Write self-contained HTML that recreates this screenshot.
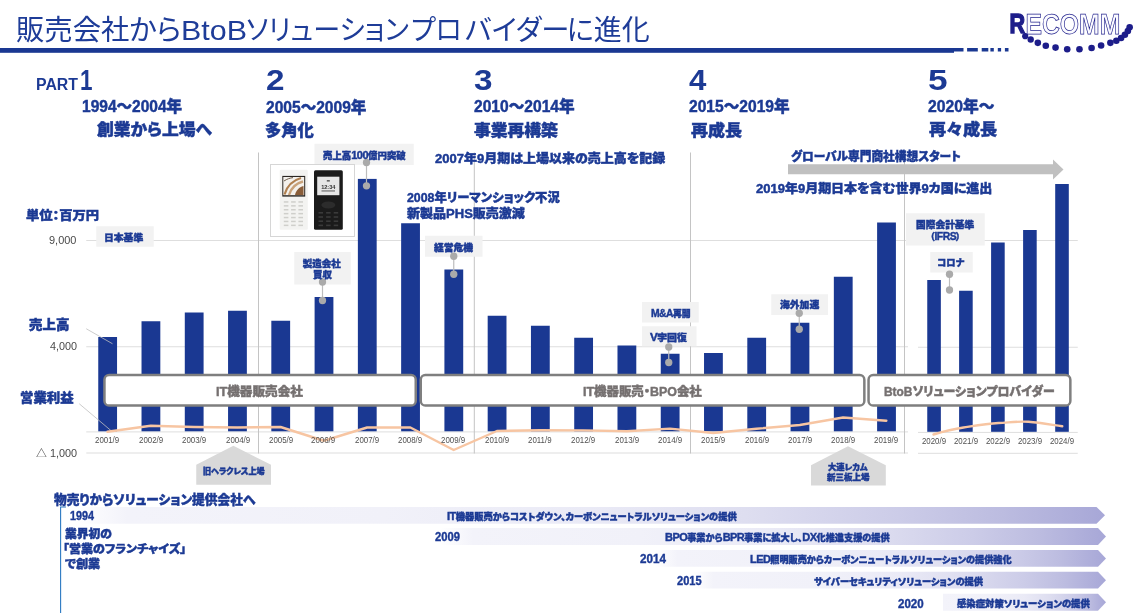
<!DOCTYPE html>
<html lang="ja"><head><meta charset="utf-8"><title>販売会社からBtoBソリューションプロバイダーに進化</title>
<style>
html,body{margin:0;padding:0;background:#fff;}
#s{position:relative;width:1135px;height:613px;overflow:hidden;background:#fff;}
#s svg{position:absolute;left:0;top:0;}
.t{position:absolute;white-space:nowrap;line-height:1;transform-origin:0 0;}
</style></head><body><div id="s">
<svg width="1135" height="613" viewBox="0 0 1135 613">
<defs><linearGradient id="bg" x1="0" x2="1" y1="0" y2="0"><stop offset="0" stop-color="#f3f3fa"/><stop offset="0.3" stop-color="#f1f1f9"/><stop offset="0.5" stop-color="#eaeaf6"/><stop offset="0.65" stop-color="#dedef0"/><stop offset="0.8" stop-color="#cccce8"/><stop offset="0.9" stop-color="#bcbce0"/><stop offset="1.0" stop-color="#a7a7d7"/></linearGradient><linearGradient id="bg2" x1="0" x2="1" y1="0" y2="0"><stop offset="0" stop-color="#ffffff"/><stop offset="0.05" stop-color="#f3f3fa"/><stop offset="0.3" stop-color="#f1f1f9"/><stop offset="0.5" stop-color="#eaeaf6"/><stop offset="0.65" stop-color="#dedef0"/><stop offset="0.8" stop-color="#cccce8"/><stop offset="0.9" stop-color="#bcbce0"/><stop offset="1.0" stop-color="#a7a7d7"/></linearGradient></defs>
<rect x="0" y="48" width="954" height="4.8" fill="#1a3892"/>
<rect x="953.8" y="48" width="9.7" height="3.5" fill="#1a3892"/>
<rect x="967.1" y="48" width="10.7" height="3.5" fill="#1a3892"/>
<rect x="981.7" y="48" width="6.6" height="3.5" fill="#1a3892"/>
<rect x="990.4" y="48" width="3.4" height="3.5" fill="#1a3892"/>
<rect x="997.8" y="48" width="3.3" height="3.5" fill="#1a3892"/>
<rect x="1004.9" y="48" width="3.6" height="3.5" fill="#1a3892"/>
<rect x="86.25" y="240.0" width="821.75" height="1" fill="#dedede"/>
<rect x="86.25" y="346.25" width="821.75" height="1" fill="#dedede"/>
<rect x="86.25" y="431.4" width="821.75" height="1" fill="#dedede"/>
<rect x="86.25" y="452.5" width="821.75" height="1" fill="#dedede"/>
<rect x="918" y="240.0" width="159.75" height="1" fill="#dedede"/>
<rect x="918" y="346.75" width="159.75" height="1" fill="#dedede"/>
<rect x="918" y="431.9" width="159.75" height="1" fill="#dedede"/>
<rect x="918" y="452.8" width="159.75" height="1" fill="#dedede"/>
<rect x="258.0" y="152.5" width="1" height="301.0" fill="#c4c4c4"/>
<rect x="473.8" y="152.5" width="1" height="301.0" fill="#c4c4c4"/>
<rect x="690.0" y="152.5" width="1" height="301.0" fill="#c4c4c4"/>
<rect x="904.0" y="152.5" width="1" height="301.0" fill="#c4c4c4"/>
<rect x="98.25" y="337" width="18.8" height="94.30" fill="#1a3892"/>
<rect x="141.52" y="321.25" width="18.8" height="110.05" fill="#1a3892"/>
<rect x="184.79" y="312.5" width="18.8" height="118.80" fill="#1a3892"/>
<rect x="228.06" y="310.75" width="18.8" height="120.55" fill="#1a3892"/>
<rect x="271.33" y="320.75" width="18.8" height="110.55" fill="#1a3892"/>
<rect x="314.60" y="297" width="18.8" height="134.30" fill="#1a3892"/>
<rect x="357.87" y="178.9" width="18.8" height="252.40" fill="#1a3892"/>
<rect x="401.14" y="223.25" width="18.8" height="208.05" fill="#1a3892"/>
<rect x="444.41" y="269.5" width="18.8" height="161.80" fill="#1a3892"/>
<rect x="487.68" y="315.75" width="18.8" height="115.55" fill="#1a3892"/>
<rect x="530.95" y="325.75" width="18.8" height="105.55" fill="#1a3892"/>
<rect x="574.22" y="337.75" width="18.8" height="93.55" fill="#1a3892"/>
<rect x="617.49" y="345.5" width="18.8" height="85.80" fill="#1a3892"/>
<rect x="660.76" y="353.75" width="18.8" height="77.55" fill="#1a3892"/>
<rect x="704.03" y="353" width="18.8" height="78.30" fill="#1a3892"/>
<rect x="747.30" y="337.75" width="18.8" height="93.55" fill="#1a3892"/>
<rect x="790.57" y="322.75" width="18.8" height="108.55" fill="#1a3892"/>
<rect x="833.84" y="276.75" width="18.8" height="154.55" fill="#1a3892"/>
<rect x="877.11" y="222.5" width="18.8" height="208.80" fill="#1a3892"/>
<rect x="927.25" y="280" width="13.6" height="151.80" fill="#1a3892"/>
<rect x="959.1" y="290.75" width="13.6" height="141.05" fill="#1a3892"/>
<rect x="991.1" y="242.5" width="13.6" height="189.30" fill="#1a3892"/>
<rect x="1023.1" y="230" width="13.6" height="201.80" fill="#1a3892"/>
<rect x="1055.2" y="184" width="13.6" height="247.80" fill="#1a3892"/>
<rect x="96.25" y="226.25" width="57.5" height="20.5" fill="#f2f2f2"/>
<rect x="314.5" y="143.75" width="99.25" height="21.25" fill="#f2f2f2"/>
<rect x="294.25" y="252" width="56.5" height="32.5" fill="#f2f2f2"/>
<rect x="425" y="235.75" width="57.5" height="21.0" fill="#f2f2f2"/>
<rect x="642" y="302" width="56.75" height="20.5" fill="#f2f2f2"/>
<rect x="642" y="326.25" width="54.5" height="20.0" fill="#f2f2f2"/>
<rect x="771.25" y="294.25" width="56.75" height="20.75" fill="#f2f2f2"/>
<rect x="906" y="213.25" width="78.75" height="32.25" fill="#f2f2f2"/>
<rect x="930.25" y="252" width="42.5" height="20.5" fill="#f2f2f2"/>
<line x1="366.5" y1="162.5" x2="366.5" y2="185.8" stroke="#bdbdbd" stroke-width="1.2"/>
<circle cx="366.5" cy="162.5" r="3.65" fill="#aaaaaa"/><circle cx="366.5" cy="185.8" r="3.65" fill="#aaaaaa"/>
<line x1="453.75" y1="256.25" x2="453.75" y2="274.25" stroke="#bdbdbd" stroke-width="1.2"/>
<circle cx="453.75" cy="256.25" r="3.65" fill="#aaaaaa"/><circle cx="453.75" cy="274.25" r="3.65" fill="#aaaaaa"/>
<line x1="322.5" y1="282" x2="322.5" y2="300.5" stroke="#bdbdbd" stroke-width="1.2"/>
<circle cx="322.5" cy="282" r="3.65" fill="#aaaaaa"/><circle cx="322.5" cy="300.5" r="3.65" fill="#aaaaaa"/>
<line x1="668.75" y1="347" x2="668.75" y2="362.5" stroke="#bdbdbd" stroke-width="1.2"/>
<circle cx="668.75" cy="347" r="3.65" fill="#aaaaaa"/><circle cx="668.75" cy="362.5" r="3.65" fill="#aaaaaa"/>
<line x1="799.25" y1="313.25" x2="799.25" y2="329.25" stroke="#bdbdbd" stroke-width="1.2"/>
<circle cx="799.25" cy="313.25" r="3.65" fill="#aaaaaa"/><circle cx="799.25" cy="329.25" r="3.65" fill="#aaaaaa"/>
<line x1="949.5" y1="274.25" x2="949.5" y2="290" stroke="#bdbdbd" stroke-width="1.2"/>
<circle cx="949.5" cy="274.25" r="3.65" fill="#aaaaaa"/><circle cx="949.5" cy="290" r="3.65" fill="#aaaaaa"/>
<line x1="86.25" y1="328.75" x2="112.5" y2="343.75" stroke="#bfbfbf" stroke-width="0.8"/>
<line x1="79.25" y1="403.75" x2="111.75" y2="431.25" stroke="#bfbfbf" stroke-width="0.8"/>
<polyline points="107.50,431.75 150.77,425.75 194.04,427 237.31,427.5 280.58,427 323.85,440.75 367.12,427.5 410.39,427.5 453.66,450 496.93,431 540.20,430.2 583.47,430.4 626.74,431.3 670.01,428.6 713.28,433 756.55,428.75 799.82,425 843.09,417.5 886.36,420.75" fill="none" stroke="#f7c5a2" stroke-width="2.4" stroke-linejoin="round" stroke-linecap="round"/>
<path d="M933.5 434.5 C945 431 953 429 963.5 427.5 C976 425.5 986 423.6 998.5 423 C1010 422.4 1018 421.2 1028.5 421.8 C1040 422.6 1050 424.5 1062.25 426.25" fill="none" stroke="#f7c5a2" stroke-width="2.4" stroke-linecap="round"/>
<rect x="104.45" y="375.05" width="311.30" height="30.5" rx="4.6" ry="4.6" fill="#fff" stroke="#7f7f7f" stroke-width="2.5"/>
<rect x="420.75" y="375.05" width="443.60" height="30.5" rx="4.6" ry="4.6" fill="#fff" stroke="#7f7f7f" stroke-width="2.5"/>
<rect x="868.55" y="375.05" width="201.80" height="30.5" rx="4.6" ry="4.6" fill="#fff" stroke="#7f7f7f" stroke-width="2.5"/>
<polygon points="196.25,464.8 233.4,445.8 271,464.8 271,484.7 196.25,484.7" fill="#d9d9d9"/>
<polygon points="811,465.3 848,446.25 885.8,465.3 885.8,485.4 811,485.4" fill="#d9d9d9"/>
<polygon points="788,164.25 1053,164.25 1053,159.5 1063.5,169.5 1053,179.5 1053,174.25 788,174.25" fill="#c0c0c0"/>
<polygon points="76,506.9 1096.5,506.9 1105,515.3499999999999 1096.5,523.8 76,523.8" fill="url(#bg2)"/>
<polygon points="440,528 1098,528 1106,536.5 1098,545 440,545" fill="url(#bg2)"/>
<polygon points="655,550 1098,550 1106,558.375 1098,566.75 655,566.75" fill="url(#bg2)"/>
<polygon points="693,571.75 1098,571.75 1106,580.125 1098,588.5 693,588.5" fill="url(#bg2)"/>
<polygon points="943,593.75 1098,593.75 1106,602.25 1098,610.75 943,610.75" fill="url(#bg)"/>
<path d="M66 507 H60.6 V613" fill="none" stroke="#2b79c2" stroke-width="1.1"/>
<rect x="270.5" y="164.5" width="84" height="72" fill="#fff" stroke="#d6d6d6" stroke-width="1"/>
<rect x="279.7" y="169.8" width="28.1" height="60" rx="1.2" fill="#f3f3f1"/>
<rect x="282.3" y="175.9" width="22.9" height="20.7" fill="#2a2622"/>
<rect x="283.3" y="177" width="20.9" height="18.2" fill="#f4f1ec"/>
<path d="M284.5 194.5 C287 186 292 180.5 301 178" fill="none" stroke="#b08050" stroke-width="2.2"/>
<path d="M289 195 C291 188 295.5 183.5 303 181.5" fill="none" stroke="#c9a27a" stroke-width="2.4"/>
<path d="M295 195 C296 190.5 299 187 303.5 186 L303.5 195 Z" fill="#8a5e3a"/>
<path d="M284 181 C287 179 290 178 293 177.6" fill="none" stroke="#6b5a48" stroke-width="1"/>
<rect x="283.8" y="201.2" width="4.6" height="1.5" fill="#cfcfcb"/>
<rect x="291.1" y="201.2" width="4.6" height="1.5" fill="#cfcfcb"/>
<rect x="298.4" y="201.2" width="4.6" height="1.5" fill="#cfcfcb"/>
<rect x="283.8" y="205.1" width="4.6" height="1.5" fill="#cfcfcb"/>
<rect x="291.1" y="205.1" width="4.6" height="1.5" fill="#cfcfcb"/>
<rect x="298.4" y="205.1" width="4.6" height="1.5" fill="#cfcfcb"/>
<rect x="283.8" y="209.0" width="4.6" height="1.5" fill="#cfcfcb"/>
<rect x="291.1" y="209.0" width="4.6" height="1.5" fill="#cfcfcb"/>
<rect x="298.4" y="209.0" width="4.6" height="1.5" fill="#cfcfcb"/>
<rect x="283.8" y="212.9" width="4.6" height="1.5" fill="#cfcfcb"/>
<rect x="291.1" y="212.9" width="4.6" height="1.5" fill="#cfcfcb"/>
<rect x="298.4" y="212.9" width="4.6" height="1.5" fill="#cfcfcb"/>
<rect x="283.8" y="216.8" width="4.6" height="1.5" fill="#cfcfcb"/>
<rect x="291.1" y="216.8" width="4.6" height="1.5" fill="#cfcfcb"/>
<rect x="298.4" y="216.8" width="4.6" height="1.5" fill="#cfcfcb"/>
<rect x="283.8" y="220.7" width="4.6" height="1.5" fill="#cfcfcb"/>
<rect x="291.1" y="220.7" width="4.6" height="1.5" fill="#cfcfcb"/>
<rect x="298.4" y="220.7" width="4.6" height="1.5" fill="#cfcfcb"/>
<rect x="283.8" y="224.6" width="4.6" height="1.5" fill="#cfcfcb"/>
<rect x="291.1" y="224.6" width="4.6" height="1.5" fill="#cfcfcb"/>
<rect x="298.4" y="224.6" width="4.6" height="1.5" fill="#cfcfcb"/>
<rect x="314" y="170.2" width="28.8" height="59.6" rx="1.5" fill="#1b1b1b"/>
<rect x="317.2" y="176.7" width="22.2" height="18.5" fill="#e6e6e6"/>
<text x="328.3" y="188.6" text-anchor="middle" font-family="'Liberation Sans',sans-serif" font-weight="700" font-size="5.6" fill="#333">12:34</text><rect x="321.5" y="190.4" width="13.5" height="1.1" fill="#666"/><rect x="326.8" y="180.2" width="3" height="1.3" fill="#444"/>
<ellipse cx="328.4" cy="205" rx="7" ry="3.5" fill="#2c2c2c"/>
<rect x="318.5" y="212.0" width="4.5" height="1.6" fill="#3a3a3a"/>
<rect x="326.1" y="212.0" width="4.5" height="1.6" fill="#3a3a3a"/>
<rect x="333.7" y="212.0" width="4.5" height="1.6" fill="#3a3a3a"/>
<rect x="318.5" y="216.2" width="4.5" height="1.6" fill="#3a3a3a"/>
<rect x="326.1" y="216.2" width="4.5" height="1.6" fill="#3a3a3a"/>
<rect x="333.7" y="216.2" width="4.5" height="1.6" fill="#3a3a3a"/>
<rect x="318.5" y="220.4" width="4.5" height="1.6" fill="#3a3a3a"/>
<rect x="326.1" y="220.4" width="4.5" height="1.6" fill="#3a3a3a"/>
<rect x="333.7" y="220.4" width="4.5" height="1.6" fill="#3a3a3a"/>
<rect x="318.5" y="224.6" width="4.5" height="1.6" fill="#3a3a3a"/>
<rect x="326.1" y="224.6" width="4.5" height="1.6" fill="#3a3a3a"/>
<rect x="333.7" y="224.6" width="4.5" height="1.6" fill="#3a3a3a"/>
<circle cx="1025.22" cy="36.16" r="3.1" fill="#1d1d8a"/>
<circle cx="1030.69" cy="39.50" r="3.2" fill="#1d1d8a"/>
<circle cx="1037.83" cy="42.83" r="3.3" fill="#1d1d8a"/>
<circle cx="1045.80" cy="45.68" r="3.3" fill="#1d1d8a"/>
<circle cx="1055.55" cy="47.58" r="3.3" fill="#1d1d8a"/>
<circle cx="1067.21" cy="49.25" r="3.3" fill="#1d1d8a"/>
<circle cx="1079.46" cy="49.25" r="3.3" fill="#1d1d8a"/>
<circle cx="1091.59" cy="48.06" r="3.3" fill="#1d1d8a"/>
<circle cx="1101.11" cy="45.44" r="3.3" fill="#1d1d8a"/>
<circle cx="1110.38" cy="42.83" r="3.3" fill="#1d1d8a"/>
<circle cx="1116.33" cy="40.68" r="3.3" fill="#1d1d8a"/>
<circle cx="1121.09" cy="38.07" r="3.3" fill="#1d1d8a"/>
<circle cx="1124.90" cy="34.74" r="3.3" fill="#1d1d8a"/>
<circle cx="1127.87" cy="30.93" r="3.3" fill="#1d1d8a"/>
<circle cx="1129.65" cy="27.36" r="3.3" fill="#1d1d8a"/>
<text x="1009.6" y="33.3" font-family="'Liberation Sans',sans-serif" font-weight="700" font-size="27.8" textLength="15.6" lengthAdjust="spacingAndGlyphs" fill="#1d1d8a" stroke="#1d1d8a" stroke-width="1.5">R</text>
<text x="1025.4" y="33.9" font-family="'Liberation Sans',sans-serif" font-weight="700" font-size="29.2" textLength="95" lengthAdjust="spacingAndGlyphs" fill="#fbfbff" stroke="#1d1d8a" stroke-width="0.75">ECOMM</text>
</svg>
<div class="t" style="left:15.73px;top:17px;font-size:28px;font-weight:400;color:#1e3c98;font-family:'Liberation Sans','Noto Sans CJK JP',sans-serif;font-feature-settings:'palt';transform:scale(1.0118,1.0000);">販売会社から</div>
<div class="t" style="left:181.19px;top:17px;font-size:28px;font-weight:400;color:#1e3c98;font-family:'Liberation Sans','Noto Sans CJK JP',sans-serif;font-feature-settings:'palt';transform:scale(1.0859,1.0000);">BtoB</div>
<div class="t" style="left:246.41px;top:17px;font-size:28px;font-weight:400;color:#1e3c98;font-family:'Liberation Sans','Noto Sans CJK JP',sans-serif;font-feature-settings:'palt';transform:scale(0.9668,1.0000);">ソリューション</div>
<div class="t" style="left:411.20px;top:17px;font-size:28px;font-weight:400;color:#1e3c98;font-family:'Liberation Sans','Noto Sans CJK JP',sans-serif;font-feature-settings:'palt';transform:scale(0.9568,1.0000);">プロ</div>
<div class="t" style="left:465.27px;top:17px;font-size:28px;font-weight:400;color:#1e3c98;font-family:'Liberation Sans','Noto Sans CJK JP',sans-serif;font-feature-settings:'palt';transform:scale(1.0111,1.0000);">バイダー</div>
<div class="t" style="left:566.71px;top:17px;font-size:28px;font-weight:400;color:#1e3c98;font-family:'Liberation Sans','Noto Sans CJK JP',sans-serif;font-feature-settings:'palt';">に進化</div>
<div class="t" style="left:35.75px;top:77px;font-size:16px;font-weight:700;color:#1c3a94;font-family:'Liberation Sans','Noto Sans CJK JP',sans-serif;transform:scale(0.9898,1.0000);">PART</div>
<div class="t" style="left:80.32px;top:66px;font-size:28px;font-weight:700;color:#1c3a94;font-family:'Liberation Sans','Noto Sans CJK JP',sans-serif;transform:scale(0.8019,1.0579);">1</div>
<div class="t" style="left:265.96px;top:66px;font-size:28px;font-weight:700;color:#1c3a94;font-family:'Liberation Sans','Noto Sans CJK JP',sans-serif;transform:scale(1.1886,1.0599);">2</div>
<div class="t" style="left:473.93px;top:66px;font-size:28px;font-weight:700;color:#1c3a94;font-family:'Liberation Sans','Noto Sans CJK JP',sans-serif;transform:scale(1.1882,1.0623);">3</div>
<div class="t" style="left:689.04px;top:66px;font-size:28px;font-weight:700;color:#1c3a94;font-family:'Liberation Sans','Noto Sans CJK JP',sans-serif;transform:scale(1.1143,1.0579);">4</div>
<div class="t" style="left:927.51px;top:66px;font-size:28px;font-weight:700;color:#1c3a94;font-family:'Liberation Sans','Noto Sans CJK JP',sans-serif;transform:scale(1.2564,1.0616);">5</div>
<div class="t" style="left:82.20px;top:99px;font-size:16px;font-weight:900;color:#1c3a94;font-family:'Liberation Sans','Noto Sans CJK JP',sans-serif;-webkit-text-stroke:0.45px #1c3a94;transform:scale(0.9703,1.0000);">1994～2004年</div>
<div class="t" style="left:266.35px;top:100px;font-size:16px;font-weight:900;color:#1c3a94;font-family:'Liberation Sans','Noto Sans CJK JP',sans-serif;-webkit-text-stroke:0.45px #1c3a94;transform:scale(0.9730,1.0000);">2005～2009年</div>
<div class="t" style="left:474.15px;top:99px;font-size:16px;font-weight:900;color:#1c3a94;font-family:'Liberation Sans','Noto Sans CJK JP',sans-serif;-webkit-text-stroke:0.45px #1c3a94;transform:scale(0.9751,1.0000);">2010～2014年</div>
<div class="t" style="left:688.65px;top:99px;font-size:16px;font-weight:900;color:#1c3a94;font-family:'Liberation Sans','Noto Sans CJK JP',sans-serif;-webkit-text-stroke:0.45px #1c3a94;transform:scale(0.9751,1.0000);">2015～2019年</div>
<div class="t" style="left:928.15px;top:99px;font-size:16px;font-weight:900;color:#1c3a94;font-family:'Liberation Sans','Noto Sans CJK JP',sans-serif;-webkit-text-stroke:0.45px #1c3a94;transform:scale(0.9838,1.0000);">2020年～</div>
<div class="t" style="left:96.83px;top:122px;font-size:16px;font-weight:900;color:#1c3a94;font-family:'Liberation Sans','Noto Sans CJK JP',sans-serif;font-feature-settings:'palt';-webkit-text-stroke:0.45px #1c3a94;transform:scale(1.0493,1.0000);">創業から上場へ</div>
<div class="t" style="left:264.94px;top:123px;font-size:16px;font-weight:900;color:#1c3a94;font-family:'Liberation Sans','Noto Sans CJK JP',sans-serif;font-feature-settings:'palt';-webkit-text-stroke:0.45px #1c3a94;transform:scale(1.0186,1.0000);">多角化</div>
<div class="t" style="left:474.24px;top:123px;font-size:16px;font-weight:900;color:#1c3a94;font-family:'Liberation Sans','Noto Sans CJK JP',sans-serif;font-feature-settings:'palt';-webkit-text-stroke:0.45px #1c3a94;transform:scale(1.0488,1.0000);">事業再構築</div>
<div class="t" style="left:690.94px;top:123px;font-size:16px;font-weight:900;color:#1c3a94;font-family:'Liberation Sans','Noto Sans CJK JP',sans-serif;font-feature-settings:'palt';-webkit-text-stroke:0.45px #1c3a94;transform:scale(1.0593,1.0000);">再成長</div>
<div class="t" style="left:928.92px;top:122px;font-size:16px;font-weight:900;color:#1c3a94;font-family:'Liberation Sans','Noto Sans CJK JP',sans-serif;font-feature-settings:'palt';-webkit-text-stroke:0.45px #1c3a94;transform:scale(1.0682,1.0000);">再々成長</div>
<div class="t" style="left:435.36px;top:153px;font-size:12.5px;font-weight:900;color:#1c3a94;font-family:'Liberation Sans','Noto Sans CJK JP',sans-serif;font-feature-settings:'palt';-webkit-text-stroke:0.45px #1c3a94;transform:scale(1.0403,1.0000);">2007年9月期は上場以来の売上高を記録</div>
<div class="t" style="left:406.86px;top:192px;font-size:12.5px;font-weight:900;color:#1c3a94;font-family:'Liberation Sans','Noto Sans CJK JP',sans-serif;font-feature-settings:'palt';-webkit-text-stroke:0.45px #1c3a94;transform:scale(0.9884,1.0000);">2008年リーマンショック不況</div>
<div class="t" style="left:406.51px;top:208px;font-size:12.5px;font-weight:900;color:#1c3a94;font-family:'Liberation Sans','Noto Sans CJK JP',sans-serif;font-feature-settings:'palt';-webkit-text-stroke:0.45px #1c3a94;transform:scale(1.0414,1.0000);">新製品PHS販売激減</div>
<div class="t" style="left:791.15px;top:151px;font-size:12px;font-weight:900;color:#1c3a94;font-family:'Liberation Sans','Noto Sans CJK JP',sans-serif;font-feature-settings:'palt';-webkit-text-stroke:0.45px #1c3a94;transform:scale(0.9733,1.0000);">グローバル専門商社構想スタート</div>
<div class="t" style="left:756.36px;top:183px;font-size:12.5px;font-weight:900;color:#1c3a94;font-family:'Liberation Sans','Noto Sans CJK JP',sans-serif;font-feature-settings:'palt';-webkit-text-stroke:0.45px #1c3a94;transform:scale(1.0396,1.0000);">2019年9月期日本を含む世界9カ国に進出</div>
<div class="t" style="left:26.14px;top:210px;font-size:12.5px;font-weight:900;color:#1c3a94;font-family:'Liberation Sans','Noto Sans CJK JP',sans-serif;font-feature-settings:'palt';-webkit-text-stroke:0.45px #1c3a94;transform:scale(1.0637,1.0000);">単位：百万円</div>
<div class="t" style="left:103.87px;top:233px;font-size:9.5px;font-weight:900;color:#1c3a94;font-family:'Liberation Sans','Noto Sans CJK JP',sans-serif;-webkit-text-stroke:0.45px #1c3a94;transform:scale(1.0315,1.0000);">日本基準</div>
<div class="t" style="left:322.75px;top:150px;font-size:9.5px;font-weight:900;color:#1c3a94;font-family:'Liberation Sans','Noto Sans CJK JP',sans-serif;-webkit-text-stroke:0.45px #1c3a94;transform:scale(0.9904,1.0000);">売上高<span style="font-size:1.18em;letter-spacing:-0.05em">100</span>億円突破</div>
<div class="t" style="left:302.81px;top:259px;font-size:9.5px;font-weight:900;color:#1c3a94;font-family:'Liberation Sans','Noto Sans CJK JP',sans-serif;-webkit-text-stroke:0.45px #1c3a94;">製造会社</div>
<div class="t" style="left:313.09px;top:270px;font-size:9.5px;font-weight:900;color:#1c3a94;font-family:'Liberation Sans','Noto Sans CJK JP',sans-serif;-webkit-text-stroke:0.45px #1c3a94;transform:scale(0.9946,1.0000);">買収</div>
<div class="t" style="left:433.71px;top:243px;font-size:9.5px;font-weight:900;color:#1c3a94;font-family:'Liberation Sans','Noto Sans CJK JP',sans-serif;-webkit-text-stroke:0.45px #1c3a94;transform:scale(1.0272,1.0000);">経営危機</div>
<div class="t" style="left:650.82px;top:308px;font-size:9.5px;font-weight:900;color:#1c3a94;font-family:'Liberation Sans','Noto Sans CJK JP',sans-serif;-webkit-text-stroke:0.45px #1c3a94;transform:scale(0.9252,1.0000);"><span style="font-size:1.18em;letter-spacing:-0.05em">M&amp;A</span>再開</div>
<div class="t" style="left:650.15px;top:332px;font-size:9.5px;font-weight:900;color:#1c3a94;font-family:'Liberation Sans','Noto Sans CJK JP',sans-serif;-webkit-text-stroke:0.45px #1c3a94;transform:scale(1.0398,1.0000);"><span style="font-size:1.18em;letter-spacing:-0.05em">V</span>字回復</div>
<div class="t" style="left:780.49px;top:300px;font-size:9.5px;font-weight:900;color:#1c3a94;font-family:'Liberation Sans','Noto Sans CJK JP',sans-serif;-webkit-text-stroke:0.45px #1c3a94;transform:scale(1.0315,1.0000);">海外加速</div>
<div class="t" style="left:915.91px;top:220px;font-size:9.5px;font-weight:900;color:#1c3a94;font-family:'Liberation Sans','Noto Sans CJK JP',sans-serif;-webkit-text-stroke:0.45px #1c3a94;transform:scale(1.0220,1.0000);">国際会計基準</div>
<div class="t" style="left:929.67px;top:231px;font-size:9.5px;font-weight:900;color:#1c3a94;font-family:'Liberation Sans','Noto Sans CJK JP',sans-serif;font-feature-settings:'palt';-webkit-text-stroke:0.45px #1c3a94;transform:scale(0.9483,1.0000);">（<span style="font-size:1.15em;letter-spacing:-0.05em">IFRS</span>）</div>
<div class="t" style="left:936.65px;top:258px;font-size:9.5px;font-weight:900;color:#1c3a94;font-family:'Liberation Sans','Noto Sans CJK JP',sans-serif;-webkit-text-stroke:0.45px #1c3a94;transform:scale(0.9683,1.0000);">コロナ</div>
<div class="t" style="left:202.98px;top:468px;font-size:8px;font-weight:900;color:#1c3a94;font-family:'Liberation Sans','Noto Sans CJK JP',sans-serif;font-feature-settings:'palt';-webkit-text-stroke:0.45px #1c3a94;transform:scale(1.0054,1.0000);">旧ヘラクレス上場</div>
<div class="t" style="left:827.98px;top:464px;font-size:8px;font-weight:900;color:#1c3a94;font-family:'Liberation Sans','Noto Sans CJK JP',sans-serif;font-feature-settings:'palt';-webkit-text-stroke:0.45px #1c3a94;transform:scale(1.0382,1.0000);">大連レカム</div>
<div class="t" style="left:826.71px;top:474px;font-size:8px;font-weight:900;color:#1c3a94;font-family:'Liberation Sans','Noto Sans CJK JP',sans-serif;font-feature-settings:'palt';-webkit-text-stroke:0.45px #1c3a94;transform:scale(1.0607,1.0000);">新三板上場</div>
<div class="t" style="left:49.31px;top:235px;font-size:10.5px;font-weight:400;color:#4a4a4a;font-family:'Liberation Sans','Noto Sans CJK JP',sans-serif;transform:scale(1.0436,1.0000);">9,000</div>
<div class="t" style="left:50.17px;top:341px;font-size:10.5px;font-weight:400;color:#4a4a4a;font-family:'Liberation Sans','Noto Sans CJK JP',sans-serif;transform:scale(1.0327,1.0000);">4,000</div>
<div class="t" style="left:35.70px;top:448px;font-size:10.5px;font-weight:400;color:#4a4a4a;font-family:'Liberation Sans','Noto Sans CJK JP',sans-serif;transform:scale(1.0359,1.0000);">△ 1,000</div>
<div class="t" style="left:95.41px;top:436px;font-size:8.3px;font-weight:400;color:#505050;font-family:'Liberation Sans','Noto Sans CJK JP',sans-serif;transform:scale(0.9526,1.0000);">2001/9</div>
<div class="t" style="left:138.86px;top:436px;font-size:8.3px;font-weight:400;color:#505050;font-family:'Liberation Sans','Noto Sans CJK JP',sans-serif;transform:scale(0.9526,1.0000);">2002/9</div>
<div class="t" style="left:182.29px;top:436px;font-size:8.3px;font-weight:400;color:#505050;font-family:'Liberation Sans','Noto Sans CJK JP',sans-serif;transform:scale(0.9526,1.0000);">2003/9</div>
<div class="t" style="left:225.55px;top:436px;font-size:8.3px;font-weight:400;color:#505050;font-family:'Liberation Sans','Noto Sans CJK JP',sans-serif;transform:scale(0.9526,1.0000);">2004/9</div>
<div class="t" style="left:268.86px;top:436px;font-size:8.3px;font-weight:400;color:#505050;font-family:'Liberation Sans','Noto Sans CJK JP',sans-serif;transform:scale(0.9526,1.0000);">2005/9</div>
<div class="t" style="left:311.34px;top:436px;font-size:8.3px;font-weight:400;color:#505050;font-family:'Liberation Sans','Noto Sans CJK JP',sans-serif;transform:scale(0.9526,1.0000);">2006/9</div>
<div class="t" style="left:354.59px;top:436px;font-size:8.3px;font-weight:400;color:#505050;font-family:'Liberation Sans','Noto Sans CJK JP',sans-serif;transform:scale(0.9526,1.0000);">2007/9</div>
<div class="t" style="left:398.49px;top:436px;font-size:8.3px;font-weight:400;color:#505050;font-family:'Liberation Sans','Noto Sans CJK JP',sans-serif;transform:scale(0.9526,1.0000);">2008/9</div>
<div class="t" style="left:441.31px;top:436px;font-size:8.3px;font-weight:400;color:#505050;font-family:'Liberation Sans','Noto Sans CJK JP',sans-serif;transform:scale(0.9526,1.0000);">2009/9</div>
<div class="t" style="left:484.62px;top:436px;font-size:8.3px;font-weight:400;color:#505050;font-family:'Liberation Sans','Noto Sans CJK JP',sans-serif;transform:scale(0.9526,1.0000);">2010/9</div>
<div class="t" style="left:527.81px;top:436px;font-size:8.3px;font-weight:400;color:#505050;font-family:'Liberation Sans','Noto Sans CJK JP',sans-serif;transform:scale(0.9526,1.0000);">2011/9</div>
<div class="t" style="left:571.34px;top:436px;font-size:8.3px;font-weight:400;color:#505050;font-family:'Liberation Sans','Noto Sans CJK JP',sans-serif;transform:scale(0.9526,1.0000);">2012/9</div>
<div class="t" style="left:614.70px;top:436px;font-size:8.3px;font-weight:400;color:#505050;font-family:'Liberation Sans','Noto Sans CJK JP',sans-serif;transform:scale(0.9526,1.0000);">2013/9</div>
<div class="t" style="left:658.02px;top:436px;font-size:8.3px;font-weight:400;color:#505050;font-family:'Liberation Sans','Noto Sans CJK JP',sans-serif;transform:scale(0.9526,1.0000);">2014/9</div>
<div class="t" style="left:701.37px;top:436px;font-size:8.3px;font-weight:400;color:#505050;font-family:'Liberation Sans','Noto Sans CJK JP',sans-serif;transform:scale(0.9526,1.0000);">2015/9</div>
<div class="t" style="left:744.74px;top:436px;font-size:8.3px;font-weight:400;color:#505050;font-family:'Liberation Sans','Noto Sans CJK JP',sans-serif;transform:scale(0.9526,1.0000);">2016/9</div>
<div class="t" style="left:787.58px;top:436px;font-size:8.3px;font-weight:400;color:#505050;font-family:'Liberation Sans','Noto Sans CJK JP',sans-serif;transform:scale(0.9526,1.0000);">2017/9</div>
<div class="t" style="left:831.45px;top:436px;font-size:8.3px;font-weight:400;color:#505050;font-family:'Liberation Sans','Noto Sans CJK JP',sans-serif;transform:scale(0.9526,1.0000);">2018/9</div>
<div class="t" style="left:874.29px;top:436px;font-size:8.3px;font-weight:400;color:#505050;font-family:'Liberation Sans','Noto Sans CJK JP',sans-serif;transform:scale(0.9526,1.0000);">2019/9</div>
<div class="t" style="left:922.06px;top:437px;font-size:8.3px;font-weight:400;color:#505050;font-family:'Liberation Sans','Noto Sans CJK JP',sans-serif;transform:scale(0.9460,1.0000);">2020/9</div>
<div class="t" style="left:953.92px;top:437px;font-size:8.3px;font-weight:400;color:#505050;font-family:'Liberation Sans','Noto Sans CJK JP',sans-serif;transform:scale(0.9460,1.0000);">2021/9</div>
<div class="t" style="left:986.06px;top:437px;font-size:8.3px;font-weight:400;color:#505050;font-family:'Liberation Sans','Noto Sans CJK JP',sans-serif;transform:scale(0.9460,1.0000);">2022/9</div>
<div class="t" style="left:1018.05px;top:437px;font-size:8.3px;font-weight:400;color:#505050;font-family:'Liberation Sans','Noto Sans CJK JP',sans-serif;transform:scale(0.9460,1.0000);">2023/9</div>
<div class="t" style="left:1050.06px;top:437px;font-size:8.3px;font-weight:400;color:#505050;font-family:'Liberation Sans','Noto Sans CJK JP',sans-serif;transform:scale(0.9460,1.0000);">2024/9</div>
<div class="t" style="left:29.25px;top:318px;font-size:13px;font-weight:900;color:#1c3a94;font-family:'Liberation Sans','Noto Sans CJK JP',sans-serif;-webkit-text-stroke:0.45px #1c3a94;transform:scale(1.0369,1.0000);">売上高</div>
<div class="t" style="left:19.95px;top:391px;font-size:13px;font-weight:900;color:#1c3a94;font-family:'Liberation Sans','Noto Sans CJK JP',sans-serif;-webkit-text-stroke:0.45px #1c3a94;transform:scale(1.0327,1.0000);">営業利益</div>
<div class="t" style="left:215.90px;top:386px;font-size:12.5px;font-weight:900;color:#757070;font-family:'Liberation Sans','Noto Sans CJK JP',sans-serif;-webkit-text-stroke:0.45px #757070;transform:scale(1.0086,1.0000);">IT機器販売会社</div>
<div class="t" style="left:582.95px;top:386px;font-size:12.5px;font-weight:900;color:#757070;font-family:'Liberation Sans','Noto Sans CJK JP',sans-serif;font-feature-settings:'palt';-webkit-text-stroke:0.45px #757070;transform:scale(0.9940,1.0000);">IT機器販売・BPO会社</div>
<div class="t" style="left:883.55px;top:386px;font-size:12.5px;font-weight:900;color:#757070;font-family:'Liberation Sans','Noto Sans CJK JP',sans-serif;font-feature-settings:'palt';-webkit-text-stroke:0.45px #757070;transform:scale(0.9540,1.0000);">BtoBソリューションプロバイダー</div>
<div class="t" style="left:54.01px;top:493px;font-size:13px;font-weight:900;color:#1c3a94;font-family:'Liberation Sans','Noto Sans CJK JP',sans-serif;font-feature-settings:'palt';-webkit-text-stroke:0.45px #1c3a94;transform:scale(0.9768,1.0000);">物売りからソリューション提供会社へ</div>
<div class="t" style="left:69.75px;top:510px;font-size:12.5px;font-weight:700;color:#1c3a94;font-family:'Liberation Sans','Noto Sans CJK JP',sans-serif;-webkit-text-stroke:0.4px #1c3a94;transform:scale(0.8632,1.0000);">1994</div>
<div class="t" style="left:434.85px;top:531px;font-size:12.5px;font-weight:700;color:#1c3a94;font-family:'Liberation Sans','Noto Sans CJK JP',sans-serif;-webkit-text-stroke:0.4px #1c3a94;transform:scale(0.8981,1.0000);">2009</div>
<div class="t" style="left:639.84px;top:553px;font-size:12.5px;font-weight:700;color:#1c3a94;font-family:'Liberation Sans','Noto Sans CJK JP',sans-serif;-webkit-text-stroke:0.4px #1c3a94;transform:scale(0.9336,1.0000);">2014</div>
<div class="t" style="left:676.85px;top:575px;font-size:12.5px;font-weight:700;color:#1c3a94;font-family:'Liberation Sans','Noto Sans CJK JP',sans-serif;-webkit-text-stroke:0.4px #1c3a94;transform:scale(0.8842,1.0000);">2015</div>
<div class="t" style="left:897.83px;top:598px;font-size:12.5px;font-weight:700;color:#1c3a94;font-family:'Liberation Sans','Noto Sans CJK JP',sans-serif;-webkit-text-stroke:0.4px #1c3a94;transform:scale(0.9242,1.0000);">2020</div>
<div class="t" style="left:447.25px;top:511px;font-size:9.5px;font-weight:900;color:#1c3a94;font-family:'Liberation Sans','Noto Sans CJK JP',sans-serif;font-feature-settings:'palt';-webkit-text-stroke:0.45px #1c3a94;transform:scale(0.9716,1.0000);"><span style="font-size:1.2em;letter-spacing:-0.05em">IT</span>機器販売からコストダウン、カーボンニュートラルソリューションの提供</div>
<div class="t" style="left:664.73px;top:532px;font-size:9.5px;font-weight:900;color:#1c3a94;font-family:'Liberation Sans','Noto Sans CJK JP',sans-serif;font-feature-settings:'palt';-webkit-text-stroke:0.45px #1c3a94;transform:scale(0.9647,1.0000);"><span style="font-size:1.2em;letter-spacing:-0.05em">BPO</span>事業から<span style="font-size:1.2em;letter-spacing:-0.05em">BPR</span>事業に拡大し、<span style="font-size:1.2em;letter-spacing:-0.05em">DX</span>化推進支援の提供</div>
<div class="t" style="left:750.24px;top:554px;font-size:9.5px;font-weight:900;color:#1c3a94;font-family:'Liberation Sans','Noto Sans CJK JP',sans-serif;font-feature-settings:'palt';-webkit-text-stroke:0.45px #1c3a94;transform:scale(0.9624,1.0000);"><span style="font-size:1.2em;letter-spacing:-0.05em">LED</span>照明販売からカーボンニュートラルソリューションの提供強化</div>
<div class="t" style="left:814.29px;top:577px;font-size:9.5px;font-weight:900;color:#1c3a94;font-family:'Liberation Sans','Noto Sans CJK JP',sans-serif;font-feature-settings:'palt';-webkit-text-stroke:0.45px #1c3a94;transform:scale(0.9747,1.0000);">サイバーセキュリティソリューションの提供</div>
<div class="t" style="left:957.39px;top:599px;font-size:9.5px;font-weight:900;color:#1c3a94;font-family:'Liberation Sans','Noto Sans CJK JP',sans-serif;font-feature-settings:'palt';-webkit-text-stroke:0.45px #1c3a94;transform:scale(0.9840,1.0000);">感染症対策ソリューションの提供</div>
<div class="t" style="left:65.11px;top:529px;font-size:11px;font-weight:900;color:#1c3a94;font-family:'Liberation Sans','Noto Sans CJK JP',sans-serif;font-feature-settings:'palt';-webkit-text-stroke:0.45px #1c3a94;transform:scale(1.0686,1.0000);">業界初の</div>
<div class="t" style="left:63.46px;top:544px;font-size:11px;font-weight:900;color:#1c3a94;font-family:'Liberation Sans','Noto Sans CJK JP',sans-serif;font-feature-settings:'palt';-webkit-text-stroke:0.45px #1c3a94;transform:scale(1.0876,1.0000);">「営業のフランチャイズ」</div>
<div class="t" style="left:65.45px;top:559px;font-size:11px;font-weight:900;color:#1c3a94;font-family:'Liberation Sans','Noto Sans CJK JP',sans-serif;font-feature-settings:'palt';-webkit-text-stroke:0.45px #1c3a94;transform:scale(1.0905,1.0000);">で創業</div>
</div></body></html>
